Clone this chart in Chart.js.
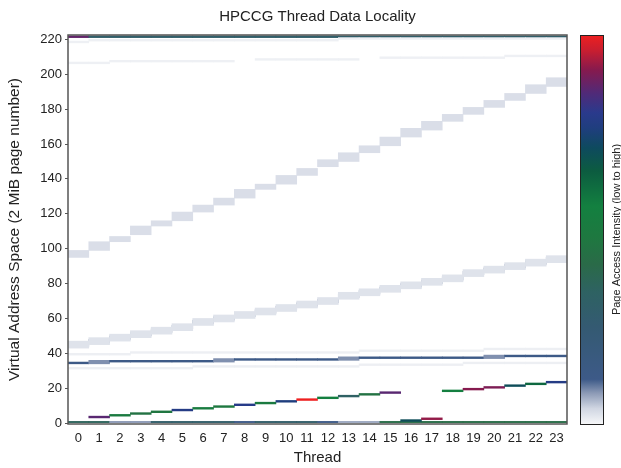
<!DOCTYPE html>
<html>
<head>
<meta charset="utf-8">
<script src="https://cdn.jsdelivr.net/npm/chart.js@4"></script>
<style>
  body { margin: 0; background: #fff; }
  canvas { display: block; }
</style>
</head>
<body>
<canvas id="locality" width="621" height="468"></canvas>
<script>
// threads on the x axis
const threads = ['0','1','2','3','4','5','6','7','8','9','10','11','12','13','14','15','16','17','18','19','20','21','22','23'];
const yTicks = [0, 20, 40, 60, 80, 100, 120, 140, 160, 180, 200, 220];

// page numbers, one per thread (null = nothing there)
const topPages     = [221,221,221,221,221,221,221,221,221,221,221,221,221,221,221,221,221,221,221,221,221,221,221,221];
const topLevels    = [0.87,0.3,0.3,0.3,0.3,0.3,0.3,0.3,0.3,0.3,0.3,0.3,0.3,0.3,0.3,0.3,0.3,0.3,0.3,0.3,0.3,0.3,0.3,0.3];
const faintHigh    = [218,219,219,219,219,219,219,219,219,219,219,219,219,220,220,220,220,220,220,220,220,220,220,220];
const faintMid     = [206,206,207,207,207,207,207,207,null,208,208,208,208,208,null,209,209,209,209,209,209,210,210,210];

const upperLo      = [95,99,104,108,113,116,121,125,129,134,137,142,147,150,155,159,164,168,173,177,181,185,189,193];
const upperHi      = [99,104,107,113,116,121,125,129,134,137,142,146,151,155,159,164,169,173,177,181,185,189,194,198];

const midPages     = [44,46,48,50,52,54,57,59,61,63,65,67,69,72,74,76,78,80,82,85,87,89,91,93];

const faintAbove   = [39,39,39,40,40,40,40,40,40,40,40,40,40,40,41,41,41,41,41,41,42,42,42,42];
const horizPages   = [34,34,35,35,35,35,35,35,36,36,36,36,36,36,37,37,37,37,37,37,37,38,38,38];
const horizSpan    = [1,2,1,1,1,1,1,2,1,1,1,1,1,2,1,1,1,1,1,1,2,1,1,1];
const horizLevels  = [0.12,0.085,0.12,0.12,0.12,0.12,0.12,0.085,0.12,0.12,0.12,0.12,0.12,0.085,0.12,0.12,0.12,0.12,0.12,0.12,0.085,0.12,0.12,0.12];
const faintBelow   = [31,31,31,31,31,31,32,32,32,32,32,32,32,32,33,33,33,33,33,34,34,34,34,34];

const lowPages     = [null,3,4,5,6,7,8,9,10,11,12,13,14,15,16,17,1,2,18,19,20,21,22,23];
const lowLevels    = [0,0.86,0.5,0.45,0.47,0.78,0.52,0.48,0.79,0.5,0.76,1.0,0.55,0.33,0.45,0.86,0.7,0.92,0.55,0.91,0.9,0.7,0.62,0.78];

const bottomPages  = [0,0,0,0,0,0,0,0,0,0,0,0,0,0,0,0,0,0,0,0,0,0,0,0];
const bottomLevels = [0.36,0.36,0.08,0.08,0.3,0.3,0.3,0.3,0.12,0.3,0.3,0.3,0.12,0.07,0.07,0.42,0.42,0.42,0.42,0.42,0.42,0.42,0.42,0.42];

// colour scale of the bar on the right, low to high
const cmap = [
  [0,    '#f6f7f9'],
  [0.04, '#d0d6e2'],
  [0.08, '#8b99b5'],
  [0.115,'#3d5a88'],
  [0.25, '#345a72'],
  [0.34, '#2e6262'],
  [0.41, '#2a6a48'],
  [0.48, '#1e7840'],
  [0.56, '#138040'],
  [0.65, '#0c5c40'],
  [0.71, '#0e4a5e'],
  [0.76, '#1f3e7e'],
  [0.8,  '#2a3a8c'],
  [0.85, '#502a78'],
  [0.91, '#861a4e'],
  [0.96, '#c81e30'],
  [1,    '#ee2020']
];

const FONT = '"Liberation Sans", Arial, sans-serif';

function hex(c) {
  return [parseInt(c.slice(1,3),16), parseInt(c.slice(3,5),16), parseInt(c.slice(5,7),16)];
}

function colorFor(v) {
  for (let i = 1; i < cmap.length; i++) {
    if (v <= cmap[i][0]) {
      const a = cmap[i-1], b = cmap[i];
      const t = (v - a[0]) / (b[0] - a[0]);
      const ca = hex(a[1]), cb = hex(b[1]);
      const m = ca.map((x, k) => Math.round(x + (cb[k] - x) * t));
      return 'rgb(' + m.join(',') + ')';
    }
  }
  return cmap[cmap.length-1][1];
}

// one floating-bar dataset per band; span is pages covered by each cell
function band(pages, levels, span, spanBelow) {
  return {
    data: pages.map((p, i) => p === null ? null : [p - (spanBelow || 0), p + (Array.isArray(span) ? span[i] : span)]),
    backgroundColor: pages.map((p, i) => colorFor(Array.isArray(levels) ? levels[i] : levels)),
    grouped: false,
    categoryPercentage: 1,
    barPercentage: 1,
    borderWidth: 0
  };
}

const datasets = [
  band(faintHigh, 0.008, 1),
  band(faintMid, 0.008, 1),
  band(topPages, topLevels, 1),
  {
    data: upperLo.map((lo, i) => [lo, upperHi[i]]),
    backgroundColor: colorFor(0.03),
    grouped: false, categoryPercentage: 1, barPercentage: 1, borderWidth: 0
  },
  band(midPages, 0.024, 3, 1),
  band(midPages, 0.072, 2),
  band(faintAbove, 0.01, 1),
  band(faintBelow, 0.01, 1),
  band(horizPages, horizLevels, horizSpan),
  band(lowPages, lowLevels, 1),
  band(bottomPages, bottomLevels, 1)
];

const extras = {
  id: 'extras',
  afterDraw(chart) {
    const ctx = chart.ctx, a = chart.chartArea;
    ctx.save();
    // frame around the plot
    ctx.strokeStyle = '#555';
    ctx.lineWidth = 1.5;
    ctx.strokeRect(a.left, a.top, a.right - a.left, a.bottom - a.top);

    // title, centred over the plot
    ctx.fillStyle = '#222';
    ctx.font = '15px ' + FONT;
    ctx.textAlign = 'center';
    ctx.textBaseline = 'middle';
    ctx.fillText('HPCCG Thread Data Locality', (a.left + a.right) / 2, 17);

    // colour bar
    const x0 = a.right + 13, w = 23;
    const g = ctx.createLinearGradient(0, a.bottom, 0, a.top);
    cmap.forEach(s => g.addColorStop(s[0], s[1]));
    ctx.fillStyle = g;
    ctx.fillRect(x0, a.top, w, a.bottom - a.top);
    ctx.strokeStyle = '#222';
    ctx.lineWidth = 1;
    ctx.strokeRect(x0 + 0.5, a.top + 0.5, w, a.bottom - a.top);

    ctx.translate(x0 + w + 14, (a.top + a.bottom) / 2);
    ctx.rotate(-Math.PI / 2);
    ctx.fillStyle = '#222';
    ctx.font = '11px ' + FONT;
    ctx.fillText('Page Access Intensity (low to high)', 0, 0);
    ctx.restore();
  }
};

const ctx = document.getElementById('locality').getContext('2d');
const locality_chart = new Chart(ctx, {
  type: 'bar',
  data: { labels: threads, datasets: datasets },
  options: {
    responsive: false,
    animation: false,
    devicePixelRatio: 1,
    layout: { padding: { top: 35, right: 54, left: 0, bottom: 0 } },
    plugins: {
      legend: { display: false },
      tooltip: { enabled: false },
      title: { display: false }
    },
    scales: {
      x: {
        grid: { display: false, tickLength: 0 },
        border: { display: false },
        ticks: { color: '#222', font: { size: 13, family: FONT }, padding: 7, maxRotation: 0, autoSkip: false },
        title: { display: true, text: 'Thread', color: '#222', font: { size: 15, family: FONT }, padding: { top: 0, bottom: 1 } },
        afterFit: (scale) => { scale.height = 44; }
      },
      y: {
        min: -0.5,
        max: 222.5,
        grid: { display: true, drawOnChartArea: false, tickLength: 3, color: '#555' },
        border: { display: false },
        afterBuildTicks: (scale) => { scale.ticks = yTicks.map(v => ({ value: v })); },
        ticks: { color: '#222', font: { size: 13, family: FONT }, padding: 3 },
        title: { display: true, text: 'Virtual Address Space (2 MiB page number)', color: '#222', font: { size: 15.5, family: FONT }, padding: { top: 5, bottom: 4 } },
        afterFit: (scale) => { scale.width = 68; }
      }
    }
  },
  plugins: [extras]
});
</script>
</body>
</html>
